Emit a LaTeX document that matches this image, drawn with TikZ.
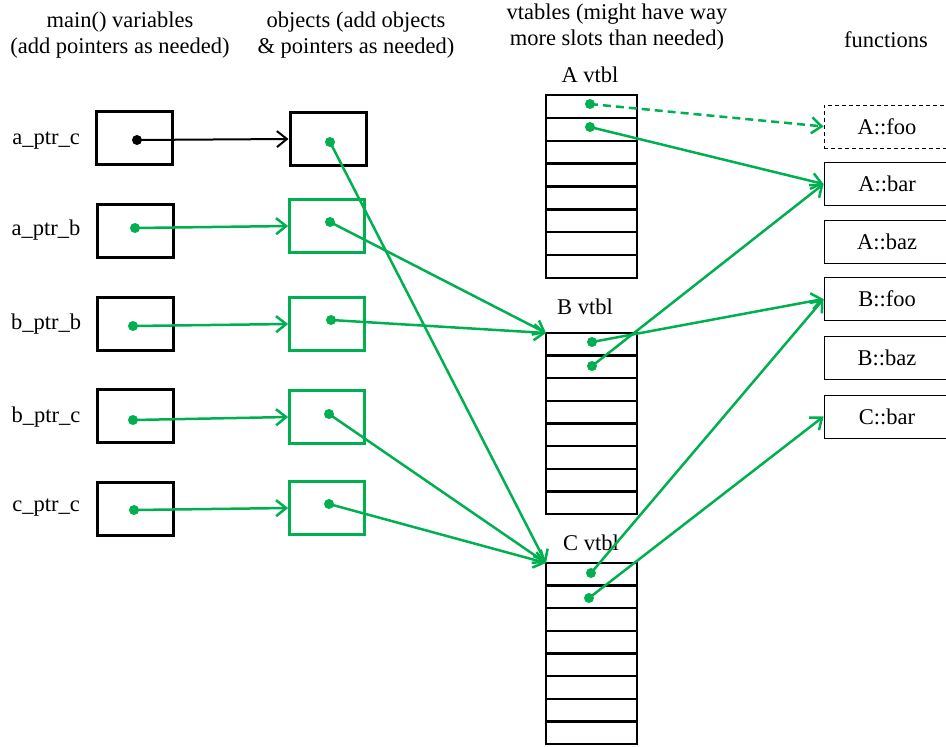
\documentclass[tikz,border=0pt]{standalone}
\usepackage{fontspec}
\setmainfont{Liberation Serif}
\usetikzlibrary{arrows.meta,calc}
\definecolor{ptrgreen}{RGB}{0,176,80}
\tikzset{
  varbox/.style={draw=black, line width=3pt, minimum width=76pt, minimum height=53pt, inner sep=0pt},
  objbox/.style={draw=ptrgreen, line width=2.8pt, minimum width=75pt, minimum height=53pt, inner sep=0pt},
  vtblbox/.style={draw=black, line width=2.6pt, minimum width=91pt, outer sep=0pt, inner sep=0pt},
  slotline/.style={draw=black, line width=2.4pt},
  funcbox/.style={draw=black, line width=0.9pt, minimum width=126pt, minimum height=43pt, inner sep=0pt},
  ptrdot/.style={circle, fill=ptrgreen, inner sep=0pt, minimum size=10pt},
  link/.style={-{Straight Barb[length=10pt,width=16pt]}, draw=ptrgreen, line width=2.5pt},
  blacklink/.style={-{Straight Barb[length=10pt,width=16pt]}, draw=black, line width=2pt},
  header/.style={align=center}
}
\begin{document}
\begin{tikzpicture}[x=1pt,y=-1pt,font=\fontsize{22.5}{25.5}\selectfont]
  \useasboundingbox (0,0) rectangle (946,747);

  \node[header] (hvars) at (120,35) {main() variables\\(add pointers as needed)};
  \node[header] (hobjs) at (356,35) {objects (add objects\\\& pointers as needed)};
  \node[header] (hvtbl) at (617,27) {vtables (might have way\\more slots than needed)};
  \node[header] (hfunc) at (886,40) {functions};

  \node (lac) at (46,141) {a\_ptr\_c};
  \node (lab) at (46,230) {a\_ptr\_b};
  \node (lbb) at (46,324) {b\_ptr\_b};
  \node (lbc) at (46,417) {b\_ptr\_c};
  \node (lcc) at (46,508) {c\_ptr\_c};

  \node[varbox] (vac) at (134,138) {};
  \node[varbox] (vab) at (135,231) {};
  \node[varbox] (vbb) at (135,324) {};
  \node[varbox] (vbc) at (135,416) {};
  \node[varbox] (vcc) at (135,509) {};

  \node[varbox] (oac) at (328,139) {};
  \node[objbox] (oab) at (327,226) {};
  \node[objbox] (obb) at (327,324) {};
  \node[objbox] (obc) at (327,417) {};
  \node[objbox] (occ) at (327,508) {};

  \node[ptrdot, fill=black] (vacp) at (137,140) {};
  \node[ptrdot] (vabp) at (135,228) {};
  \node[ptrdot] (vbbp) at (133,326) {};
  \node[ptrdot] (vbcp) at (133,420) {};
  \node[ptrdot] (vccp) at (134,510) {};

  \node[ptrdot] (oacp) at (330,142) {};
  \node[ptrdot] (oabp) at (330,222) {};
  \node[ptrdot] (obbp) at (331,320) {};
  \node[ptrdot] (obcp) at (329,414) {};
  \node[ptrdot] (occp) at (329,504) {};

  \node (lvtA) at (590,75) {A vtbl};
  \node (lvtB) at (585,307) {B vtbl};
  \node (lvtC) at (591,543) {C vtbl};

  \node[vtblbox, minimum height=183pt] (vtA) at (591.5,186.5) {};
  \node[vtblbox, minimum height=181pt] (vtB) at (591.5,423.5) {};
  \node[vtblbox, minimum height=181pt] (vtC) at (591.5,653.5) {};
  \foreach \t in {vtA,vtB,vtC}
    \foreach \k in {1,...,7}
      \draw[slotline] ($(\t.north west)!\k/8!(\t.south west)$) -- ($(\t.north east)!\k/8!(\t.south east)$);

  \node[ptrdot] (sA1) at (590,104) {};
  \node[ptrdot] (sA2) at (590,127) {};
  \node[ptrdot] (sB1) at (592,342) {};
  \node[ptrdot] (sB2) at (592,366) {};
  \node[ptrdot] (sC1) at (591,573) {};
  \node[ptrdot] (sC2) at (589,598) {};

  \node[funcbox, dash pattern=on 4pt off 3pt] (fAfoo) at (887,126.5) {A::foo};
  \node[funcbox] (fAbar) at (887,184) {A::bar};
  \node[funcbox] (fAbaz) at (887,241.5) {A::baz};
  \node[funcbox] (fBfoo) at (887,299) {B::foo};
  \node[funcbox] (fBbaz) at (887,358) {B::baz};
  \node[funcbox] (fCbar) at (887,416.5) {C::bar};

  \draw[blacklink] (vacp.center) -- (oac.west);
  \draw[link] (vabp.center) -- (oab.west);
  \draw[link] (vbbp.center) -- (obb.west);
  \draw[link] (vbcp.center) -- (obc.west);
  \draw[link] (vccp.center) -- (occ.west);

  \draw[link] (oacp.center) -- (vtC.north west);
  \draw[link] (oabp.center) -- (vtB.north west);
  \draw[link] (obbp.center) -- (vtB.north west);
  \draw[link] (obcp.center) -- (vtC.north west);
  \draw[link] (occp.center) -- (vtC.north west);

  \draw[link, dash pattern=on 8pt off 5pt] (sA1.center) -- (fAfoo.west);
  \draw[link] (sA2.center) -- (fAbar.west);
  \draw[link] (sB1.center) -- (fBfoo.west);
  \draw[link] (sB2.center) -- (fAbar.west);
  \draw[link] (sC1.center) -- (fBfoo.west);
  \draw[link] (sC2.center) -- (fCbar.west);
\end{tikzpicture}
\end{document}
